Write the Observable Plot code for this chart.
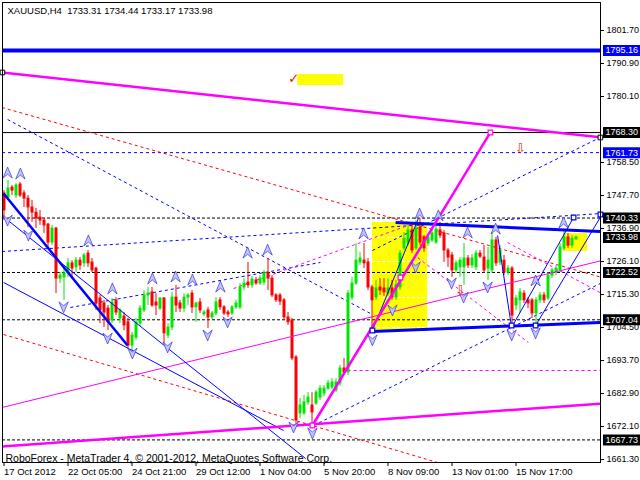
<!DOCTYPE html>
<html><head><meta charset="utf-8">
<script src="https://cdn.jsdelivr.net/npm/d3@7"></script>
<script src="https://cdn.jsdelivr.net/npm/@observablehq/plot@0.6"></script>
<style>body{margin:0;background:#fff}</style>
</head><body><div id="chart"></div>
<script>
// ---- candles (bar index = H4 bar) ----
const open=[1748.4,1747.0,1750.3,1747.7,1751.3,1748.4,1746.7,1743.8,1742.1,1740.5,
1739.5,1738.2,1732.3,1736.9,1720.5,1720.9,1722.2,1725.5,1724.2,1726.4,
1725.5,1728.7,1725.8,1723.8,1714.0,1712.4,1710.7,1706.8,1713.4,1707.5,
1708.1,1706.2,1698.6,1701.2,1705.8,1710.1,1715.0,1716.0,1712.7,1710.7,
1714.0,1701.9,1704.5,1714.3,1712.4,1710.7,1714.3,1715.6,1711.1,1712.7,
1708.8,1710.1,1707.8,1709.1,1713.4,1711.1,1709.4,1709.1,1711.1,1711.1,
1717.6,1719.2,1718.3,1719.9,1718.9,1719.2,1722.2,1720.5,1715.0,1715.0,
1713.4,1707.8,1706.8,1694.7,1676.4,1676.4,1680.0,1679.0,1679.6,1681.6,
1682.9,1684.5,1684.9,1683.9,1686.2,1691.1,1689.8,1714.3,1718.9,1725.8,
1726.4,1725.8,1717.6,1714.3,1717.6,1717.3,1715.6,1717.3,1714.3,1717.6,
1730.4,1732.0,1736.3,1730.4,1737.2,1734.0,1732.0,1733.0,1732.3,1736.3,
1735.3,1729.7,1728.1,1723.2,1724.2,1724.2,1727.1,1724.8,1724.2,1728.7,
1727.4,1723.8,1723.2,1733.0,1725.8,1726.4,1722.5,1723.8,1711.7,1713.4,
1715.6,1713.4,1713.4,1709.1,1713.4,1715.0,1714.0,1721.5,1722.5,1723.2,
1730.4,1734.0,1731.3,1733.31];
const high=[1749.3,1752.6,1751.0,1751.6,1752.0,1749.3,1747.7,1746.1,1743.5,1742.8,
1740.2,1738.6,1737.9,1737.2,1722.5,1724.2,1727.1,1726.4,1727.4,1727.4,
1728.7,1729.7,1727.1,1724.2,1715.0,1713.4,1711.7,1714.0,1714.3,1710.7,
1709.4,1707.5,1702.9,1707.5,1711.7,1716.6,1717.6,1717.6,1715.6,1714.3,
1714.3,1705.8,1716.0,1718.3,1713.4,1715.6,1715.6,1716.6,1712.7,1714.0,
1710.1,1711.1,1709.8,1714.3,1714.3,1711.7,1710.1,1711.7,1713.4,1718.9,
1720.5,1725.8,1721.2,1720.9,1721.5,1723.2,1727.1,1721.5,1715.6,1715.6,
1714.0,1709.4,1707.5,1695.3,1681.3,1682.3,1683.2,1683.2,1683.9,1685.5,
1685.5,1687.2,1687.8,1687.8,1692.1,1694.4,1716.6,1720.9,1732.0,1729.1,
1732.0,1727.1,1718.3,1719.9,1720.5,1720.5,1720.5,1719.9,1719.9,1729.7,
1735.6,1737.9,1738.6,1739.5,1740.2,1734.6,1734.9,1736.3,1737.6,1738.9,
1736.3,1730.4,1729.1,1726.4,1727.4,1732.0,1728.1,1728.4,1729.7,1729.7,
1731.3,1730.7,1735.3,1734.0,1731.3,1728.1,1724.8,1724.5,1715.0,1717.3,
1716.6,1714.3,1714.0,1714.3,1716.0,1716.0,1722.5,1723.8,1724.8,1732.0,
1736.3,1735.3,1734.6,1734.44];
const low=[1739.5,1746.1,1747.7,1746.7,1747.0,1743.8,1737.2,1738.9,1736.9,1737.9,
1735.3,1730.7,1731.3,1715.6,1718.9,1713.4,1720.9,1720.9,1722.5,1723.2,
1724.2,1724.2,1722.5,1710.1,1705.8,1704.5,1703.5,1705.8,1708.4,1705.8,
1703.5,1697.6,1697.0,1700.3,1704.8,1709.4,1711.7,1711.1,1708.4,1710.1,
1699.3,1700.9,1703.5,1709.4,1709.4,1709.4,1711.7,1709.1,1706.2,1709.1,
1708.1,1704.2,1707.1,1708.4,1710.1,1708.4,1707.8,1708.4,1710.4,1710.4,
1716.6,1717.3,1717.3,1718.3,1718.3,1718.3,1716.6,1714.3,1712.7,1711.7,
1706.8,1705.2,1693.7,1671.8,1674.7,1675.7,1679.0,1671.8,1679.0,1680.6,
1681.9,1683.9,1684.2,1683.2,1685.2,1689.1,1688.8,1713.4,1718.3,1724.8,
1723.8,1716.6,1703.5,1713.4,1715.0,1714.7,1714.7,1713.4,1713.4,1716.6,
1729.7,1731.0,1728.7,1729.7,1731.3,1729.1,1731.0,1732.3,1731.7,1733.6,
1725.8,1724.2,1720.9,1722.2,1720.9,1718.3,1723.8,1723.8,1723.2,1727.1,
1722.2,1719.9,1722.2,1724.5,1724.8,1721.5,1721.5,1704.5,1710.1,1709.1,
1712.4,1710.7,1707.5,1705.8,1712.4,1712.4,1713.4,1720.5,1721.5,1722.5,
1729.7,1730.4,1730.4,1733.17];
const close=[1742.8,1750.0,1749.3,1751.0,1747.7,1746.7,1743.8,1742.1,1740.2,1739.5,
1737.9,1732.3,1736.9,1720.5,1721.5,1722.2,1725.5,1723.8,1726.4,1724.8,
1728.1,1725.5,1723.2,1712.4,1710.1,1709.4,1706.2,1712.7,1709.4,1710.1,
1705.2,1698.6,1701.9,1706.2,1710.7,1715.0,1715.6,1711.7,1711.7,1714.0,
1702.6,1704.5,1714.3,1711.7,1710.7,1714.3,1715.0,1711.1,1712.4,1710.1,
1709.4,1707.8,1709.1,1712.7,1711.1,1709.1,1708.8,1711.1,1712.4,1717.6,
1718.9,1718.3,1720.2,1718.9,1720.5,1722.2,1720.5,1715.0,1713.4,1713.0,
1707.8,1706.2,1694.4,1674.1,1679.0,1680.0,1681.6,1676.7,1683.2,1684.5,
1684.5,1686.2,1686.5,1686.5,1691.1,1689.8,1715.6,1718.9,1726.4,1727.1,
1725.5,1717.6,1713.4,1717.3,1716.6,1716.0,1717.3,1714.3,1718.3,1728.7,
1733.6,1736.3,1729.7,1736.9,1732.3,1730.4,1734.0,1735.3,1736.6,1734.6,
1729.7,1727.4,1723.2,1725.5,1726.4,1727.1,1724.8,1727.1,1728.7,1727.7,
1723.2,1726.4,1733.0,1725.5,1729.7,1722.5,1723.8,1708.4,1714.0,1716.0,
1713.4,1712.4,1709.1,1713.4,1715.0,1713.4,1721.5,1723.2,1723.8,1730.7,
1734.0,1731.3,1733.6,1733.98];

const symbolName="XAUUSD,H4";
const timeTickBars=[0,16,32,48,64,80,96,112,128];
const timeLabels=["17 Oct 2012","22 Oct 05:00","24 Oct 21:00","29 Oct 12:00","1 Nov 04:00","5 Nov 20:00","8 Nov 09:00","13 Nov 01:00","15 Nov 17:00"];
const priceTicks=[1801.70,1790.90,1780.10,1758.50,1747.70,1736.90,1726.10,1715.30,1704.50,1693.70,1682.90,1672.10,1661.30];

// horizontal levels
const blueThickLevels=[1795.16];
const blackSolidLevels=[1768.30];
const blueDashLevels=[1761.73];
const blackDashLevels=[1740.33,1722.52,1707.04,1667.73];
const blueTagPrices=[1795.16,1761.73];
const blackTagPrices=[1768.30,1740.33,1733.98,1722.52,1707.04,1667.73];

// trend lines: [bar1, price1, bar2, price2]
const magentaThick=[[-0.5,1787.96,149.5,1766.69],[77.1,1672.45,121.6,1768.33],[-0.5,1665.57,149.5,1679.65]];
const magentaThin=[[-0.5,1678.34,149.5,1726.44]];
const magentaDash=[[57.4,1717.28,102.4,1738.55],[85.9,1690.44,149.5,1690.44],[103.4,1727.4,131.1,1699.6],[125.9,1732.3,149.5,1715.6]];
const redDash=[[-0.5,1776.51,149.5,1720.88],[-0.1,1702.22,108.4,1660.34]];
const blueDash=[[0.9,1772.58,91.6,1709.10],[-0.5,1729.38,149.5,1741.82],[16.6,1711.06,79.1,1725.79],[77.4,1672.45,149.5,1719.2],[92.1,1729.7,149.5,1767.0]];
const blueThin=[[0.4,1740.18,75.4,1661.64],[-0.1,1719.24,69.9,1670.81],[123.4,1734.62,126.9,1704.52],[126.9,1704.52,142.4,1740.51],[132.9,1705.17,149.5,1741.49],[92.1,1703.53,103.6,1740.18]];
const blueMedium=[[-0.1,1748.36,30.9,1698.62]];
const blueThick=[[97.9,1738.87,149.5,1735.93],[92.1,1703.21,149.5,1706.15]];
const fibWhite=[1733.96,1726.11,1714.3,1704.5];
const fibSpan=[92.1,105.9];

// shapes: [bar1, bar2, price1, price2]
const yellowBoxes=[[92.1,105.9,1738.87,1703.21],[139.9,145.9,1735.27,1729.38],[73.4,84.9,1787.31,1783.70]];
const squaresBlack=[[-0.4,1787.96],[149.1,1766.69]];
const squaresMagenta=[[121.6,1768.33],[77.1,1672.45],[99.1,1720.88]];
const squaresBlue=[[92.1,1703.53],[126.9,1705.17],[132.9,1705.17],[142.4,1740.51],[149.1,1741.49]];
const upFractals=[[0.9,1755.2],[4.1,1754.9],[21.1,1733.0],[27.1,1717.3],[37.1,1720.6],[42.9,1721.2],[47.1,1720.2],[54.1,1717.9],[60.9,1729.0],[65.9,1730.0],[89.9,1735.3],[103.9,1741.8],[108.6,1741.2],[115.9,1735.6],[122.9,1736.9],[132.9,1719.9],[139.9,1738.9]];
const downFractals=[[0.9,1739.5],[6.1,1734.6],[14.9,1711.1],[25.9,1700.9],[32.1,1696.0],[40.9,1698.0],[50.9,1701.9],[55.9,1706.2],[72.4,1671.8],[77.1,1669.8],[92.1,1700.3],[97.1,1710.1],[102.9,1724.2],[111.9,1718.9],[114.9,1714.3],[120.9,1717.6],[126.9,1701.9],[132.9,1702.6]];
const checkMarks=[[72.4,1786.0]];
const sellArrows=[[129.1,1763.1],[114.1,1716.6]];

const bars=open.map((o,i)=>({i,o,h:high[i],l:low[i],c:close[i]}));
const last=bars[bars.length-1];
const header=symbolName+"\u00a0 "+[last.o,last.h,last.l,last.c].map(v=>v.toFixed(2)).join(" ");
const UP="#00e600", DN="#ff0000";
const candleColor=d=>d.c>=d.o?UP:DN;

const upArrow={draw(ctx,size){const r=Math.sqrt(size/Math.PI);ctx.moveTo(0,-r);ctx.lineTo(r*0.85,r);ctx.lineTo(0,r*0.3);ctx.lineTo(-r*0.85,r);ctx.closePath();}};
const downArrow={draw(ctx,size){const r=Math.sqrt(size/Math.PI);ctx.moveTo(0,r);ctx.lineTo(r*0.85,-r);ctx.lineTo(0,-r*0.3);ctx.lineTo(-r*0.85,-r);ctx.closePath();}};

const seg=(data,o)=>Plot.link(data,{x1:d=>d[0],y1:d=>d[1],x2:d=>d[2],y2:d=>d[3],clip:true,...o});

const chart=Plot.plot({
  width:640,height:480,
  marginLeft:2,marginRight:40,marginTop:2,marginBottom:18,
  x:{domain:[-0.375,149.125],axis:null},
  y:{domain:[1660.34,1810.86],axis:null},
  style:{fontFamily:"Liberation Sans, Arial, sans-serif",fontSize:"9.5px",background:"#fff",color:"#000",overflow:"visible"},
  marks:[
    Plot.rect(yellowBoxes,{x1:d=>d[0],x2:d=>d[1],y1:d=>d[2],y2:d=>d[3],fill:"#ffff00",clip:true}),
    Plot.ruleY(fibWhite,{x1:fibSpan[0],x2:fibSpan[1],stroke:"#fff",strokeDasharray:"3,2"}),
    Plot.ruleY(blackDashLevels,{stroke:"#000",strokeDasharray:"3,2"}),
    Plot.ruleY(blackSolidLevels,{stroke:"#000"}),
    Plot.ruleY(blueDashLevels,{stroke:"#0000ff",strokeDasharray:"3,3"}),
    seg(redDash,{stroke:"#ff0000",strokeDasharray:"3,3"}),
    seg(blueDash,{stroke:"#0000ff",strokeDasharray:"3,3"}),
    seg(magentaDash,{stroke:"#ff00ff",strokeDasharray:"3,3"}),
    // candles
    Plot.ruleX(bars,{x:"i",y1:"l",y2:"h",stroke:candleColor}),
    Plot.ruleX(bars,{x:"i",y1:d=>Math.min(d.o,d.c)-0.15,y2:d=>Math.max(d.o,d.c)+0.15,stroke:candleColor,strokeWidth:3}),
    seg(magentaThin,{stroke:"#ff00ff",strokeWidth:1}),
    seg(blueThin,{stroke:"#0000ff",strokeWidth:1}),
    seg(blueMedium,{stroke:"#0000ff",strokeWidth:2.5}),
    seg(blueThick,{stroke:"#0000ff",strokeWidth:3}),
    seg(magentaThick,{stroke:"#ff00ff",strokeWidth:2.5}),
    Plot.ruleY(blueThickLevels,{stroke:"#0000ff",strokeWidth:4}),
    Plot.dot(upFractals,{x:d=>d[0],y:d=>d[1],symbol:upArrow,r:5.5,fill:"#c4c4ff",stroke:"#3434d8",strokeWidth:0.7}),
    Plot.dot(downFractals,{x:d=>d[0],y:d=>d[1],symbol:downArrow,r:5.5,fill:"#c4c4ff",stroke:"#3434d8",strokeWidth:0.7}),
    Plot.dot(squaresBlack,{x:d=>d[0],y:d=>d[1],symbol:"square",r:2.6,fill:"#fff",stroke:"#000",strokeWidth:1}),
    Plot.dot(squaresMagenta,{x:d=>d[0],y:d=>d[1],symbol:"square",r:2.6,fill:"#fff",stroke:"#ff00ff",strokeWidth:1.2}),
    Plot.dot(squaresBlue,{x:d=>d[0],y:d=>d[1],symbol:"square",r:2.6,fill:"#fff",stroke:"#0000ff",strokeWidth:1.2}),
    Plot.text(checkMarks,{x:d=>d[0],y:d=>d[1],text:()=>"\u2713",fill:"#ff0000",fontSize:13,fontFamily:"DejaVu Sans",fontWeight:"bold"}),
    Plot.text(sellArrows,{x:d=>d[0],y:d=>d[1],text:()=>"\u21e9",fill:"#ff2a00",fontSize:13,fontFamily:"DejaVu Sans"}),
    Plot.text([header],{frameAnchor:"top-left",dx:5,dy:5,lineAnchor:"top",textAnchor:"start",fontSize:9.5,fill:"#000"}),
    Plot.text(["RoboForex - MetaTrader 4, \u00a9 2001-2012, MetaQuotes Software Corp."],{frameAnchor:"bottom-left",dx:3,dy:-1,lineAnchor:"bottom",textAnchor:"start",fontSize:10.5,fill:"#000"}),
    Plot.axisY(priceTicks,{anchor:"right",tickSize:3,tickPadding:3,tickFormat:d=>d.toFixed(2),fontSize:9,label:null}),
    Plot.axisX(timeTickBars,{anchor:"bottom",tickSize:4,tickPadding:2,tickFormat:d=>timeLabels[timeTickBars.indexOf(d)],textAnchor:"start",fontSize:9.5,label:null}),
    Plot.ruleY(blueTagPrices,{stroke:"#0000ff",strokeWidth:11,insetLeft:601,insetRight:-40}),
    Plot.ruleY(blackTagPrices,{stroke:"#000",strokeWidth:11,insetLeft:601,insetRight:-40}),
    Plot.text(blueTagPrices.concat(blackTagPrices),{y:d=>d,text:d=>d.toFixed(2),frameAnchor:"right",dx:5,textAnchor:"start",fill:"#fff",fontSize:9}),
    Plot.frame({stroke:"#000"})
  ]
});
document.getElementById("chart").appendChild(chart);
</script>
</body></html>
